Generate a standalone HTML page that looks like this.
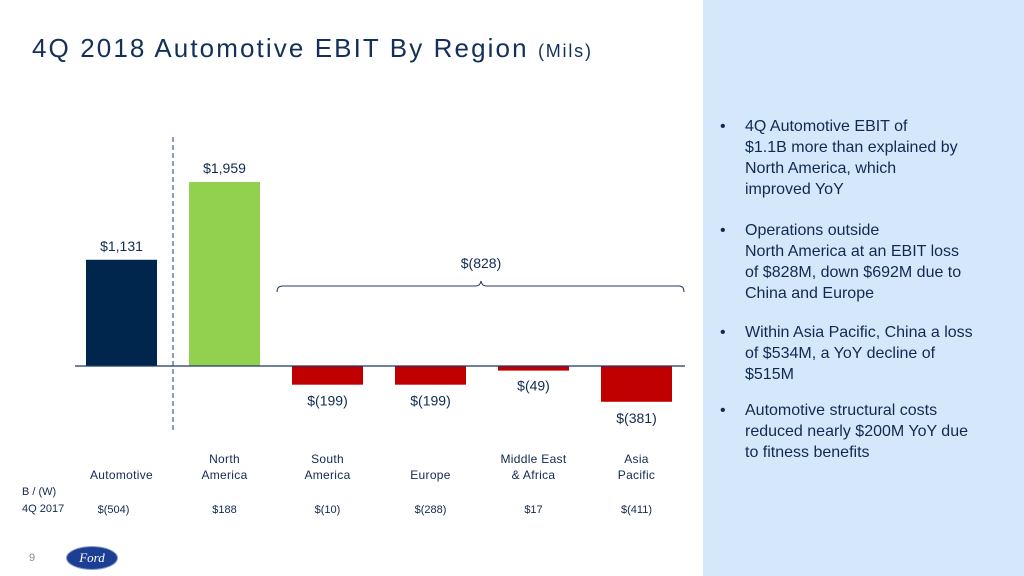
<!DOCTYPE html>
<html><head><meta charset="utf-8"><style>
body{margin:0;width:1024px;height:576px;overflow:hidden;background:#fff;font-family:"Liberation Sans",sans-serif;position:relative}
#panel{position:absolute;left:703px;top:0;width:321px;height:576px;background:#d5e7fb}
#title{position:absolute;left:32px;top:33px;font-size:26px;color:#13305a;letter-spacing:2.1px}
#title span{font-size:18px;letter-spacing:1.8px}
.bul{position:absolute;left:720px;width:300px;font-size:16px;line-height:21px;color:#102a50;white-space:nowrap}
.bul b{position:absolute;left:0;font-weight:normal}
.bul div{margin-left:25px}
.t{position:absolute;font-size:12px;color:#102a50;text-align:center}
</style></head><body>
<div id="panel"></div>
<div id="title">4Q 2018 Automotive EBIT By Region <span>(Mils)</span></div>
<div class="bul" style="top:116px"><b>•</b><div>4Q Automotive EBIT of<br>$1.1B more than explained by<br>North America, which<br>improved YoY</div></div>
<div class="bul" style="top:220px"><b>•</b><div>Operations outside<br>North America at an EBIT loss<br>of $828M, down $692M due to<br>China and Europe</div></div>
<div class="bul" style="top:322px"><b>•</b><div>Within Asia Pacific, China a loss<br>of $534M, a YoY decline of<br>$515M</div></div>
<div class="bul" style="top:400px"><b>•</b><div>Automotive structural costs<br>reduced nearly $200M YoY due<br>to fitness benefits</div></div>
<svg id="chart" width="703" height="576" style="position:absolute;left:0;top:0"></svg>
<div class="t" style="left:22px;top:503px;font-size:11px">4Q 2017</div>
<div class="t" style="left:22px;top:486px;font-size:11px">B / (W)</div>
<div class="t" style="left:29px;top:552px;color:#888;font-size:11px">9</div>
<div style="position:absolute;left:66px;top:546px;width:50px;height:22px;border-radius:50%;background:#1c3f94;color:#fff;font:italic 13px 'Liberation Serif',serif;text-align:center;line-height:22px;border:1px solid #8aa0d0">Ford</div>
<script>
const categories=["Automotive","North America","South America","Europe","Middle East & Africa","Asia Pacific"];
const catLines=[["","Automotive"],["North","America"],["South","America"],["","Europe"],["Middle East","& Africa"],["Asia","Pacific"]];
const values=[1131,1959,-199,-199,-49,-381];
const valueLabels=["$1,131","$1,959","$(199)","$(199)","$(49)","$(381)"];
const prior=["$(504)","$188","$(10)","$(288)","$17","$(411)"];
const colors=["#00264d","#92d050","#c00000","#c00000","#c00000","#c00000"];
const NS="http://www.w3.org/2000/svg";
const svg=document.getElementById('chart');
const base=366,scale=184/1959;
const y=v=>base-v*scale;
const x=i=>86+i*103;
const bw=71;
function mk(tag,attrs,txt){const e=document.createElementNS(NS,tag);for(const k in attrs)e.setAttribute(k,attrs[k]);if(txt!=null)e.textContent=txt;svg.appendChild(e);return e;}
values.forEach((v,i)=>{
 const r=mk('rect',{x:x(i),y:Math.min(y(v),base),width:bw,height:Math.abs(y(v)-base),fill:colors[i]});
 
 
 const ly=v>=0?y(v)-9:(i==4?y(v)+20:y(v)+21);
 const t=mk('text',{x:x(i)+bw/2,y:ly,'text-anchor':'middle','font-size':14,fill:'#102a50'},valueLabels[i]);
 
 
 catLines[i].forEach((l,j)=>{const c=mk('text',{x:x(i)+bw/2,y:463+j*16,'text-anchor':'middle','font-size':12,fill:'#102a50','letter-spacing':0.3},l);
  
  });
 const p=mk('text',{x:x(i)+bw/2-(i==0?8:0),y:513,'text-anchor':'middle','font-size':11,fill:'#102a50'},prior[i]);
 
 
});
const ax=mk('line',{x1:75,x2:685,y1:base,y2:base,stroke:'#1f3864','stroke-width':1.2});


const dl=mk('line',{x1:173,x2:173,y1:137,y2:430,stroke:'#1f3864','stroke-dasharray':'5,3'});


const br=mk('path',{d:'M277,292 Q277,286 283,286 L476,286 Q480,286 481,281 Q482,286 486,286 L679,286 Q684,286 684,292',fill:'none',stroke:'#1f3864','stroke-width':1});


const bl=mk('text',{x:481,y:268,'text-anchor':'middle','font-size':14,fill:'#102a50'},'$(828)');


</script>
</body></html>
